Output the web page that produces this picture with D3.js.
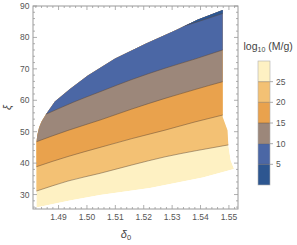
<!DOCTYPE html>
<html>
<head>
<meta charset="utf-8">
<script src="https://cdn.jsdelivr.net/npm/d3@7"></script>
<style>
body { margin: 0; background: #fff; }
svg { display: block; font-family: "Liberation Sans", Arial, sans-serif; }
</style>
</head>
<body>
<div id="chart"></div>
<script>
// axis ticks
let xTicks = [1.49, 1.50, 1.51, 1.52, 1.53, 1.54, 1.55];
let yTicks = [30, 40, 50, 60, 70, 80, 90];
let cbTicks = [5, 10, 15, 20, 25];

// contour levels of log10(M/g), band edges 0..30
let levels = [25, 20, 15, 10, 5];
let bandEdges = [0, 5, 10, 15, 20, 25, 30];

// region where the solution exists  [delta0, xi]
let outline = [
    [1.4822, 25.9], [1.4822, 46.4], [1.4825, 48.9], [1.4831, 51.2], [1.4836, 52.4],
    [1.4841, 53.4], [1.4858, 55.9], [1.4876, 58.2], [1.4887, 59.6], [1.4940, 63.6],
    [1.5003, 67.9], [1.5099, 73.3], [1.5208, 78.1], [1.5310, 82.2], [1.5391, 85.7],
    [1.5478, 88.7], [1.5478, 54.7], [1.5495, 50.5], [1.5498, 45.8], [1.5506, 41.0],
    [1.5518, 38.1], [1.5408, 35.4], [1.5222, 32.1], [1.5046, 29.85], [1.4940, 28.1]
];

// contour lines, one per level
let line25 = [[1.478, 29.9], [1.4822, 31.1], [1.4933, 34.3], [1.5046, 36.75], [1.5158, 39.4],
              [1.5275, 42.0], [1.5387, 44.0], [1.5498, 45.8], [1.556, 46.8]];
let line20 = [[1.478, 37.5], [1.4822, 38.85], [1.4933, 42.1], [1.5046, 45.0], [1.5158, 47.8],
              [1.5275, 50.5], [1.5380, 53.1], [1.5478, 55.3], [1.556, 57.0]];
let line15 = [[1.478, 45.4], [1.4822, 46.8], [1.4933, 50.4], [1.5046, 53.7], [1.5158, 57.2],
              [1.5275, 60.6], [1.5380, 63.4], [1.5478, 65.9], [1.556, 67.8]];
let line10 = [[1.480, 53.4], [1.4863, 55.85], [1.4954, 59.45], [1.5046, 62.7], [1.5158, 66.6],
              [1.5275, 70.2], [1.5380, 73.1], [1.5478, 76.0], [1.556, 78.4]];
let line5 = [[1.530, 82.5], [1.5391, 85.0], [1.5478, 87.6], [1.556, 89.9]];
let contourLines = [line25, line20, line15, line10, line5];

// colours from the highest band (25-30) down to the lowest (0-5)
let colors = ["#fef1c3", "#f3c174", "#e9a24d", "#9c877a", "#4b67a5", "#2d5690"];

let W = 297, H = 245;
let svg = d3.select("#chart").append("svg")
    .attr("width", W)
    .attr("height", H);

let x = d3.scaleLinear().domain([1.481, 1.5532]).range([33, 238]);
let y = d3.scaleLinear().domain([25.4, 90]).range([209, 6]);

let line = d3.line()
    .x(d => x(d[0]))
    .y(d => y(d[1]));
let smooth = d3.line()
    .x(d => x(d[0]))
    .y(d => y(d[1]))
    .curve(d3.curveMonotoneX);

svg.append("clipPath").attr("id", "region")
    .append("path")
    .attr("d", line(outline) + "Z");

let plot = svg.append("g").attr("clip-path", "url(#region)");

// base band
plot.append("path")
    .attr("d", line(outline) + "Z")
    .attr("fill", colors[0]);

// each level fills everything above its contour line
contourLines.forEach((pts, i) => {
    let first = pts[0], last = pts[pts.length - 1];
    let d = smooth(pts) +
        "L" + x(last[0]) + "," + y(95) +
        "L" + x(first[0]) + "," + y(95) + "Z";
    plot.append("path")
        .attr("d", d)
        .attr("fill", colors[i + 1]);
});

// contour lines
contourLines.forEach(pts => {
    plot.append("path")
        .attr("d", smooth(pts))
        .attr("fill", "none")
        .attr("stroke", "#5a4535")
        .attr("stroke-opacity", 0.6)
        .attr("stroke-width", 0.8);
});

// frame
let frameColor = "#9a9a9a";
svg.append("rect")
    .attr("x", 33).attr("y", 6)
    .attr("width", 205).attr("height", 203)
    .attr("fill", "none")
    .attr("stroke", frameColor)
    .attr("stroke-width", 1);

let xMinor = d3.range(1.482, 1.5531, 0.002);
let yMinor = d3.range(26, 90.1, 2);
let tickG = svg.append("g").attr("stroke", frameColor).attr("stroke-width", 0.8);

xMinor.forEach(v => {
    let major = xTicks.some(t => Math.abs(t - v) < 1e-6);
    let len = major ? 4 : 2;
    tickG.append("line").attr("x1", x(v)).attr("x2", x(v)).attr("y1", 209).attr("y2", 209 - len);
    tickG.append("line").attr("x1", x(v)).attr("x2", x(v)).attr("y1", 6).attr("y2", 6 + len);
});
yMinor.forEach(v => {
    let major = yTicks.includes(v);
    let len = major ? 4 : 2;
    tickG.append("line").attr("y1", y(v)).attr("y2", y(v)).attr("x1", 33).attr("x2", 33 + len);
    tickG.append("line").attr("y1", y(v)).attr("y2", y(v)).attr("x1", 238).attr("x2", 238 - len);
});

// tick labels
svg.selectAll(".xlab")
    .data(xTicks)
    .enter().append("text")
    .attr("class", "xlab")
    .attr("x", d => x(d))
    .attr("y", 220)
    .attr("text-anchor", "middle")
    .attr("font-size", 8.5)
    .attr("fill", "#555")
    .text(d => d.toFixed(2));

svg.selectAll(".ylab")
    .data(yTicks)
    .enter().append("text")
    .attr("class", "ylab")
    .attr("x", 29.5)
    .attr("y", d => y(d) + 3)
    .attr("text-anchor", "end")
    .attr("font-size", 8.5)
    .attr("fill", "#555")
    .text(d => d);

// axis titles
svg.append("text")
    .attr("transform", "translate(11,107.5) rotate(-90)")
    .attr("text-anchor", "middle")
    .attr("font-size", 11)
    .attr("font-style", "italic")
    .attr("fill", "#444")
    .text("ξ");

let xt = svg.append("text")
    .attr("x", 126)
    .attr("y", 238)
    .attr("text-anchor", "middle")
    .attr("font-size", 11)
    .attr("font-style", "italic")
    .attr("fill", "#444");
xt.append("tspan").text("δ");
xt.append("tspan").attr("font-size", 7.5).attr("dy", 2).attr("font-style", "normal").text("0");

// colour bar
let c = d3.scaleLinear().domain([0, 30]).range([185, 61]);
let cb = svg.append("g");
let bands = d3.range(bandEdges.length - 1).map(i => [bandEdges[i], bandEdges[i + 1]]);

cb.selectAll("rect")
    .data(bands)
    .enter().append("rect")
    .attr("x", 258)
    .attr("y", d => c(d[1]))
    .attr("width", 12)
    .attr("height", d => c(d[0]) - c(d[1]))
    .attr("fill", d => colors[5 - d[0] / 5]);

cb.selectAll(".sep")
    .data(cbTicks)
    .enter().append("line")
    .attr("class", "sep")
    .attr("x1", 258).attr("x2", 270)
    .attr("y1", d => c(d)).attr("y2", d => c(d))
    .attr("stroke", "#5a4535")
    .attr("stroke-opacity", 0.5)
    .attr("stroke-width", 0.8);

cb.append("rect")
    .attr("x", 258).attr("y", 61)
    .attr("width", 12).attr("height", 124)
    .attr("fill", "none")
    .attr("stroke", "#b0b0b0")
    .attr("stroke-width", 0.6);

cb.selectAll(".cbtick")
    .data(cbTicks)
    .enter().append("line")
    .attr("class", "cbtick")
    .attr("x1", 270).attr("x2", 273)
    .attr("y1", d => c(d)).attr("y2", d => c(d))
    .attr("stroke", "#999")
    .attr("stroke-width", 0.8);

cb.selectAll(".cblab")
    .data(cbTicks)
    .enter().append("text")
    .attr("class", "cblab")
    .attr("x", 276)
    .attr("y", d => c(d) + 3)
    .attr("font-size", 8.5)
    .attr("fill", "#555")
    .text(d => d);

let title = svg.append("text")
    .attr("x", 243.5)
    .attr("y", 50)
    .attr("font-size", 10.5)
    .attr("fill", "#444");
title.append("tspan").text("log");
title.append("tspan").attr("font-size", 7).attr("dy", 2).text("10");
title.append("tspan").attr("dy", -2).text(" (M/g)");
</script>
</body>
</html>
